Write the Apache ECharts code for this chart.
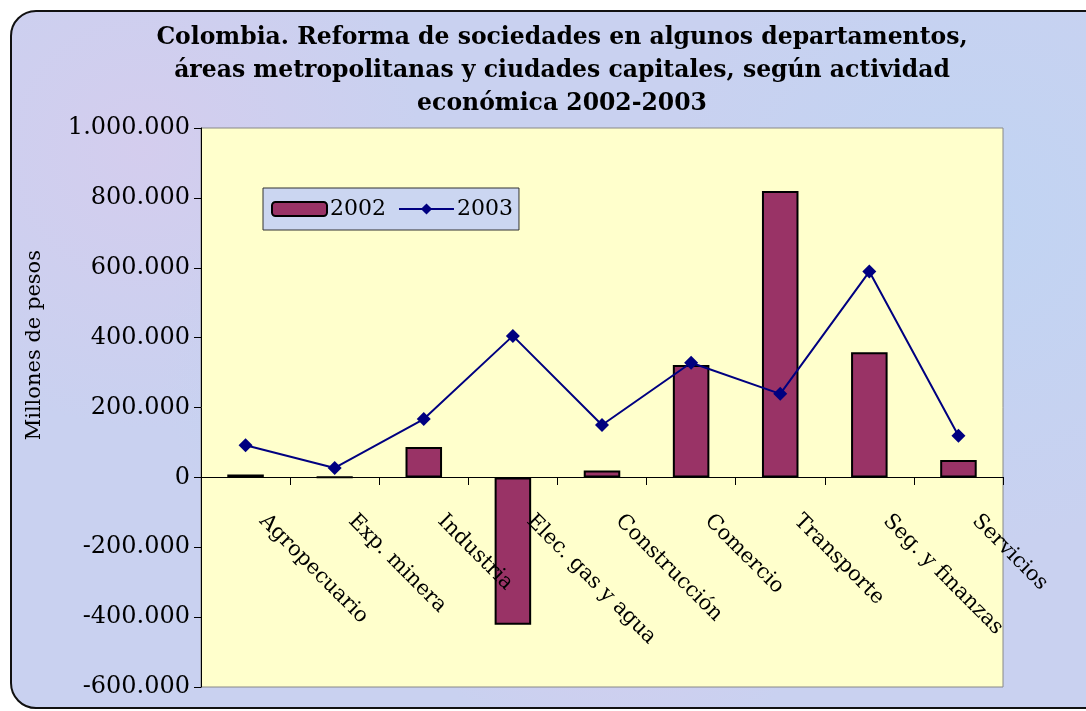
<!DOCTYPE html>
<html>
<head>
<meta charset="utf-8">
<script src="https://cdn.jsdelivr.net/npm/echarts@6/dist/echarts.min.js"></script>
<style>
  html, body { margin: 0; padding: 0; width: 1086px; height: 711px; overflow: hidden; background: #ffffff; }
  #frame {
    position: absolute; left: 10px; top: 10px; width: 1100px; height: 695px;
    border: 2px solid #111; border-radius: 26px;
    background:
      radial-gradient(circle at 12% 20%, rgba(225,200,235,0.45), transparent 25%),
      radial-gradient(circle at 55% 80%, rgba(225,200,235,0.4), transparent 25%),
      radial-gradient(circle at 88% 30%, rgba(185,215,245,0.5), transparent 30%),
      radial-gradient(circle at 35% 50%, rgba(185,215,245,0.4), transparent 30%),
      #c9d1f0;
  }
  #chart { position: absolute; left: 0; top: 0; width: 1086px; height: 711px; }
</style>
</head>
<body>
<div id="frame"></div>
<div id="chart"></div>
<script>
// actividades economicas
const categorias = ["Agropecuario", "Exp. minera", "Industria", "Elec. gas y agua", "Construcción",
  "Comercio", "Transporte", "Seg. y finanzas", "Servicios"];
// millones de pesos
const valores2002 = [8000, 1000, 87000, -422000, 20000, 322000, 820000, 358000, 50000];
const valores2003 = [92000, 27000, 167000, 405000, 150000, 328000, 239000, 589000, 119000];

const fuente = "'DejaVu Serif', 'Liberation Serif', serif";

// separador de miles con punto
function miles(v) {
  const s = String(Math.abs(v)).replace(/\B(?=(\d{3})+(?!\d))/g, ".");
  return (v < 0 ? "-" : "") + s;
}

var chart = echarts.init(document.getElementById("chart"));
chart.setOption({
  backgroundColor: "transparent",
  animation: false,
  title: {
    text: "Colombia. Reforma de sociedades en algunos departamentos,\náreas metropolitanas y ciudades capitales, según actividad\neconómica 2002-2003",
    left: 557,
    textAlign: "center",
    top: 16,
    textStyle: { fontFamily: fuente, fontSize: 23.5, fontWeight: "bold", color: "#000", lineHeight: 33 }
  },
  // titulo del eje y (centrado en el area del grafico, no en el eje)
  graphic: [{
    type: "text",
    left: 24,
    top: 250,
    rotation: Math.PI / 2,
    style: { text: "Millones de pesos", fontFamily: fuente, fontSize: 21, fill: "#000" }
  }],
  legend: {
    left: 263,
    top: 188,
    padding: [10, 6, 10, 8],
    itemGap: 12,
    itemWidth: 55,
    itemHeight: 14,
    backgroundColor: "rgba(200,212,242,0.95)",
    borderColor: "#333",
    borderWidth: 1,
    borderRadius: 0,
    textStyle: { fontFamily: fuente, fontSize: 22, color: "#000", padding: [0, 0, 0, -2] },
    data: [{ name: "2002" }, { name: "2003" }]
  },
  grid: {
    left: 201, right: 83, top: 128, bottom: 24,
    outerBoundsMode: "none",
    containLabel: false,
    show: true,
    backgroundColor: "#ffffcc",
    borderColor: "#888",
    borderWidth: 1
  },
  xAxis: {
    type: "category",
    data: categorias,
    offset: -210,
    z: 5,
    axisLine: { onZero: false, lineStyle: { color: "#000", width: 1 } },
    axisTick: { show: true, length: 8, lineStyle: { color: "#000" } },
    axisLabel: {
      rotate: -45,
      margin: 24,
      padding: [0, 0, 0, 24],
      interval: 0,
      fontFamily: fuente,
      fontSize: 21,
      color: "#000"
    }
  },
  yAxis: {
    type: "value",
    min: -600000,
    max: 1000000,
    interval: 200000,
    axisLine: { show: true, lineStyle: { color: "#000", width: 1 } },
    axisTick: { show: true, length: 7, lineStyle: { color: "#000" } },
    splitLine: { show: false },
    axisLabel: {
      fontFamily: fuente,
      fontSize: 24,
      color: "#000",
      margin: 11,
      formatter: miles
    }
  },
  series: [
    {
      name: "2002",
      type: "bar",
      data: valores2002,
      barWidth: "41%",
      itemStyle: { color: "#993366", borderColor: "#000", borderWidth: 2 }
    },
    {
      name: "2003",
      type: "line",
      data: valores2003,
      symbol: "diamond",
      symbolSize: 14,
      lineStyle: { color: "#000080", width: 2 },
      itemStyle: { color: "#000080" }
    }
  ]
});
</script>
</body>
</html>
